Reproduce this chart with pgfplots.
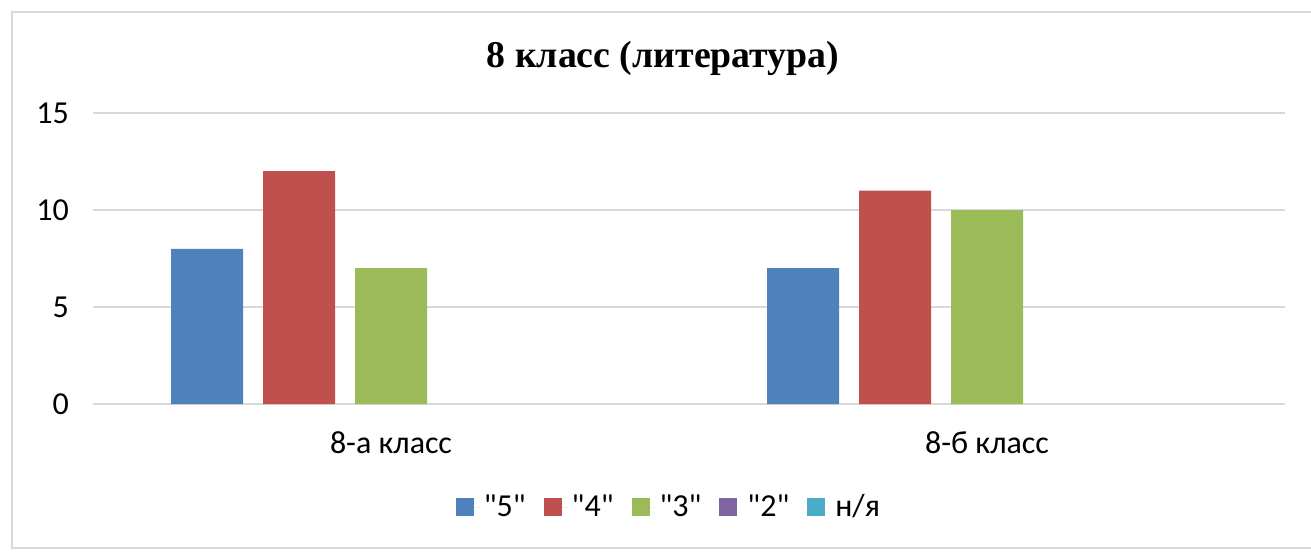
\documentclass[border=0pt]{standalone}
\usepackage{pgfplots}
\pgfplotsset{compat=1.18}
\usepackage{fontspec}
\setmainfont{Carlito}[Ligatures=TeXOff]
\newfontfamily\titlefont{Liberation Serif}
\definecolor{c5}{HTML}{4F81BD}
\definecolor{c4}{HTML}{C0504D}
\definecolor{c3}{HTML}{9BBB59}
\definecolor{c2}{HTML}{8064A2}
\definecolor{cn}{HTML}{4BACC6}
\definecolor{gridc}{HTML}{D9D9D9}
\newcommand{\q}{{\char34}}
\begin{document}
\begin{tikzpicture}
\useasboundingbox (0,0) rectangle (655.5pt,276.5pt);
\clip (0,0) rectangle (655.5pt,276.5pt);
\fill[white] (0,0) rectangle (655.5pt,276.5pt);
\draw[gridc, line width=0.8pt] (6pt,2.5pt) rectangle (670pt,270.5pt);
\node[font=\titlefont\bfseries\fontsize{18.9}{22}\selectfont] at (331.5pt,247.5pt) {8 класс (литература)};
\begin{axis}[
  at={(46.5pt,74.5pt)}, anchor=south west,
  scale only axis, width=596pt, height=145.5pt,
  ybar=10pt, bar width=36pt,
  xmin=-0.5, xmax=1.5, ymin=0, ymax=15,
  ytick={0,5,10,15},
  xtick={0,1}, xticklabels={8-а класс,8-б класс},
  axis lines*=left,
  x axis line style={gridc, line width=0.8pt, -},
  y axis line style={draw=none},
  major tick length=0pt,
  ymajorgrids, grid style={gridc, line width=0.8pt},
  ticklabel style={font=\fontsize{16}{19}\selectfont},
  /pgf/number format/assume math mode=true,
  yticklabel style={xshift=-8.5pt},
  xticklabel style={yshift=-10.5pt},
  legend columns=5,
  legend style={at={(0.484,-0.354)}, anchor=center, draw=none,
    font=\fontsize{16}{19}\selectfont,
    /tikz/every even column/.append style={column sep=7pt}},
  legend image code/.code={\fill[#1] (0pt,-4.5pt) rectangle (9pt,4.5pt); \path (0pt,0pt) -- (12pt,0pt);},
  every axis plot/.append style={draw=none},
]
\addplot[fill=c5] coordinates {(0,8) (1,7)};
\addplot[fill=c4] coordinates {(0,12) (1,11)};
\addplot[fill=c3] coordinates {(0,7) (1,10)};
\addplot[fill=none, legend image code/.code={\fill[c2] (0pt,-4.5pt) rectangle (9pt,4.5pt); \path (0pt,0pt) -- (12pt,0pt);}] coordinates {(0,0) (1,0)};
\addplot[fill=none, legend image code/.code={\fill[cn] (0pt,-4.5pt) rectangle (9pt,4.5pt); \path (0pt,0pt) -- (12pt,0pt);}] coordinates {(0,0) (1,0)};
\legend{\q5\q,\q4\q,\q3\q,\q2\q,н/я}
\end{axis}
\end{tikzpicture}
\end{document}
